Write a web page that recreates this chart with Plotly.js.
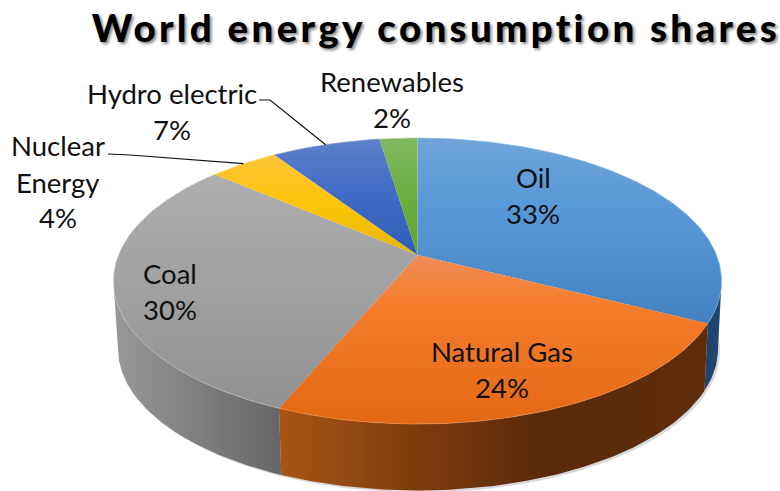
<!DOCTYPE html>
<html>
<head>
<meta charset="utf-8">
<script src="https://cdn.plot.ly/plotly-3.0.1.min.js"></script>
<style>
html,body{margin:0;padding:0;background:#fff;}
#chart{width:780px;height:491px;}
.gtitle{letter-spacing:3.3px;}
</style>
</head>
<body>
<div id="chart"></div>
<script>
// ---- data ----
const chartTitle = 'World energy consumption shares';
const categories = ['Oil', 'Natural Gas', 'Coal', 'Nuclear Energy', 'Hydro electric', 'Renewables'];
const shareValues = [32.5, 23.8, 30.0, 4.4, 6.9, 2.4];

// ---- styles: vertical gradient of each top face, horizontal gradient of each wall ----
const topGradients = [
  {start:138, stop:330, scale:[[0,'#6fa4d9'],[0.33,'#5a9ad8'],[1,'#4480c0']]},
  {start:255, stop:424, scale:[[0,'#ee8b55'],[0.3,'#f57d2c'],[1,'#e36815']]},
  {start:170, stop:410, scale:[[0,'#afafaf'],[1,'#919191']]},
  {start:155, stop:255, scale:[[0,'#fec33a'],[0.5,'#fdc508'],[1,'#e6b400']]},
  {start:139, stop:255, scale:[[0,'#5d80c9'],[0.5,'#3f6ac5'],[1,'#2f5eb5']]},
  {start:138, stop:255, scale:[[0,'#80b960'],[0.5,'#6bae40'],[1,'#5fa032']]}
];
const wallGradients = [
  {start:690, stop:725, scale:[[0,'#1b3a5e'],[1,'#234a75']]},
  {start:280, stop:710, scale:[[0,'#a85512'],[0.33,'#7c3b0e'],[0.6,'#5a2a0b'],[1,'#5f2d0b']]},
  {start:116, stop:282, scale:[[0,'#989898'],[1,'#656565']]},
  {start:200, stop:300, scale:[[0,'#caa000'],[1,'#caa000']]},
  {start:270, stop:390, scale:[[0,'#2f5597'],[1,'#2f5597']]},
  {start:380, stop:420, scale:[[0,'#548235'],[1,'#548235']]}
];
const rimColors = ['#7fb0e0', '#f6954f', '#c4c4c4', '#ffd464', '#7f9ad6', '#9ccb80'];

// ---- geometry of the tilted disc, in axis units equal to page pixels ----
const topDisc    = {x0:417.5, y0:255, a:299, b:138.3, k:0.1818};
const bottomDisc = {x0:418, y0:323, a:295, b:137, k:0.1818};
// the outline's side tangents sit where cos(angle) = -k
const tangentShare = Math.acos(-topDisc.k) / (2 * Math.PI) * 100;
const wallFrom = tangentShare, wallTo = 100 - tangentShare;

function project(disc, share) {
  const t = share / 100 * 2 * Math.PI, X = Math.sin(t), Y = Math.cos(t), w = 1 + disc.k * Y;
  return [disc.x0 + disc.a * X / w, disc.y0 - disc.b * Y / w];
}
function arc(disc, from, to) {
  const pts = [], n = Math.max(2, Math.ceil((to - from) * 4));
  for (let i = 0; i <= n; i++) pts.push(project(disc, from + (to - from) * i / n));
  return pts;
}
const bounds = [0];
shareValues.forEach((v, i) => bounds.push(bounds[i] + v));

const traces = [];
function polygon(pts, gradient, kind) {
  const xs = pts.map(p => p[0]).concat([pts[0][0]]);
  const ys = pts.map(p => p[1]).concat([pts[0][1]]);
  traces.push({
    type:'scatter', mode:'lines', x:xs, y:ys, fill:'toself', hoverinfo:'skip',
    line:{width:0, color:'rgba(0,0,0,0)'},
    fillgradient:{type:kind, start:gradient.start, stop:gradient.stop, colorscale:gradient.scale}
  });
}

// soft shadow under the disc
const shadowDisc = Object.assign({}, bottomDisc, {x0:bottomDisc.x0 + 2, y0:bottomDisc.y0 + 2});
const shadowArc = arc(shadowDisc, wallFrom - 5, wallTo + 5);
traces.push({type:'scatter', mode:'lines', x:shadowArc.map(p=>p[0]), y:shadowArc.map(p=>p[1]),
  fill:'toself', fillcolor:'rgba(120,120,120,0.28)', line:{width:0, color:'rgba(0,0,0,0)'}, hoverinfo:'skip'});

// walls: only the front part of each slice's rim is visible
categories.forEach((c, i) => {
  const from = Math.max(bounds[i], wallFrom), to = Math.min(bounds[i + 1], wallTo);
  if (to <= from) return;
  polygon(arc(topDisc, from, to).concat(arc(bottomDisc, from, to).reverse()), wallGradients[i], 'horizontal');
});

// top faces
categories.forEach((c, i) => {
  polygon([[topDisc.x0, topDisc.y0]].concat(arc(topDisc, bounds[i], bounds[i + 1])), topGradients[i], 'vertical');
});

// rim highlight
categories.forEach((c, i) => {
  const r = arc(topDisc, bounds[i], bounds[i + 1]);
  traces.push({type:'scatter', mode:'lines', x:r.map(p=>p[0]), y:r.map(p=>p[1]),
    line:{width:1, color:rimColors[i]}, opacity:0.6, hoverinfo:'skip'});
});

// leader lines: from a label elbow to the middle of the slice's rim
const leaders = {3:[[108,154],[130,155]], 4:[[259,100],[270,100]]};
Object.keys(leaders).forEach(k => {
  const i = +k, end = project(topDisc, (bounds[i] + bounds[i + 1]) / 2);
  const pts = leaders[k].concat([end]);
  traces.push({type:'scatter', mode:'lines', x:pts.map(p=>p[0]), y:pts.map(p=>p[1]),
    line:{width:1.2, color:'#111'}, hoverinfo:'skip'});
});

// labels: one annotation per text line
const labelPlacement = [
  {x:533, ys:[177, 213]},
  {x:502, ys:[351, 387]},
  {x:170, ys:[273, 309]},
  {x:58,  ys:[145, 182, 217]},
  {x:172, ys:[93, 129]},
  {x:392, ys:[81, 117]}
];
const labelFont = {family:'Lato, Carlito, sans-serif', size:27.5, color:'#111'};
const annotations = [];
categories.forEach((c, i) => {
  const place = labelPlacement[i];
  const words = place.ys.length === 3 ? c.split(' ') : [c];
  words.concat([Math.round(shareValues[i]) + '%']).forEach((text, j) => {
    annotations.push({xref:'x', yref:'y', x:place.x, y:place.ys[j], text:text, showarrow:false,
      xanchor:'center', yanchor:'middle', font:labelFont});
  });
});

const layout = {
  width:780, height:491,
  margin:{l:0, r:0, t:0, b:0},
  paper_bgcolor:'#fff', plot_bgcolor:'#fff',
  showlegend:false, hovermode:false,
  title:{text:chartTitle, x:436/780, xref:'paper', xanchor:'center', y:1 - 29/491, yref:'container', yanchor:'middle',
    font:{family:'Lato, Carlito, sans-serif', size:38.5, weight:900, color:'#000', shadow:'2px 2px 3px #888'}},
  xaxis:{range:[0, 780], visible:false, fixedrange:true},
  yaxis:{range:[491, 0], visible:false, fixedrange:true},
  annotations:annotations
};
Plotly.newPlot('chart', traces, layout, {displayModeBar:false, staticPlot:true});
</script>
</body>
</html>
